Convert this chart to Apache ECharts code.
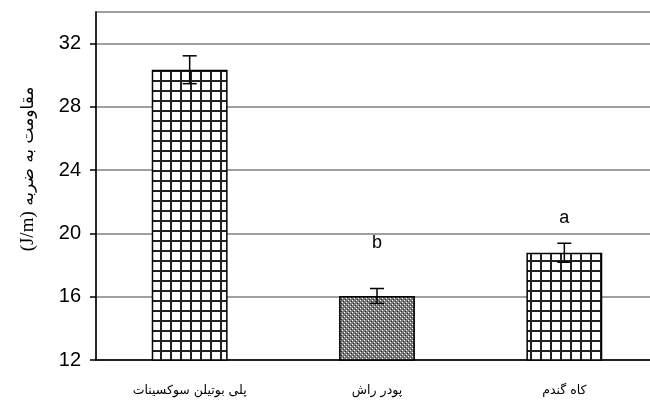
<!DOCTYPE html>
<html>
<head>
<meta charset="utf-8">
<script src="https://cdn.jsdelivr.net/npm/echarts@6/dist/echarts.min.js"></script>
<style>
  html, body { margin: 0; padding: 0; background: #fff; }
  #main { width: 650px; height: 400px; }
</style>
</head>
<body>
<div id="main"></div>
<script>
// data
var categories = ['پلی بوتیلن سوکسینات', 'پودر راش', 'کاه گندم'];
var means = [30.35, 16.05, 18.78];
var errors = [0.88, 0.47, 0.6];
var letters = ['', 'b', 'a'];
var letterPos = [null, 19.4, 21.0];
var yTicks = [12, 16, 20, 24, 28, 32];

// fill patterns: grid of squares / fine grey dots
function makeGrid() {
    var c = document.createElement('canvas');
    c.width = 10; c.height = 10;
    var ctx = c.getContext('2d');
    ctx.fillStyle = '#fff';
    ctx.fillRect(0, 0, 10, 10);
    ctx.fillStyle = '#222';
    ctx.fillRect(0, 0, 10, 2);
    ctx.fillRect(0, 0, 2, 10);
    return c;
}
function makeDots() {
    var c = document.createElement('canvas');
    c.width = 4; c.height = 4;
    var ctx = c.getContext('2d');
    ctx.fillStyle = '#7a7a7a';
    ctx.fillRect(0, 0, 4, 4);
    ctx.fillStyle = '#fff';
    ctx.fillRect(0, 0, 1, 1);
    ctx.fillRect(2, 2, 1, 1);
    ctx.fillStyle = '#333';
    ctx.fillRect(1, 3, 1, 1);
    ctx.fillRect(3, 1, 1, 1);
    return c;
}
var patterns = [makeGrid(), makeDots(), makeGrid()];

var barData = [];
var errData = [];
var letterData = [];
for (var i = 0; i < categories.length; i++) {
    barData.push({
        value: means[i],
        itemStyle: { color: { image: patterns[i], repeat: 'repeat' } }
    });
    errData.push([i, means[i] - errors[i], means[i] + errors[i]]);
    if (letterPos[i] != null) letterData.push({ value: [i, letterPos[i]], name: letters[i] });
}

var myChart = echarts.init(document.getElementById('main'));
var option = {
    animation: false,
    backgroundColor: '#fff',
    grid: {
        left: 96, top: 12, width: 562, height: 348,
        outerBoundsMode: 'none',
        show: true, borderColor: '#808080', borderWidth: 1.5
    },
    xAxis: {
        type: 'category',
        data: categories,
        axisLine: { lineStyle: { color: '#000', width: 1.5 } },
        axisTick: { show: false },
        axisLabel: { color: '#000', fontFamily: 'DejaVu Sans', fontSize: 12.5, margin: 24 }
    },
    yAxis: {
        type: 'value',
        min: 12,
        max: 34,
        interval: 4,
        name: '{u|(J/m)}{t| مقاومت به ضربه}',
        nameLocation: 'middle',
        nameGap: 58,
        nameRotate: 90,
        nameTextStyle: {
            padding: [0, 0, 0, 34],
            rich: {
                u: { fontFamily: 'Liberation Serif', fontSize: 19, color: '#000' },
                t: { fontFamily: 'DejaVu Sans', fontSize: 17, color: '#000' }
            }
        },
        axisLine: { show: true, lineStyle: { color: '#000', width: 1.5 } },
        axisTick: { show: true, length: 6, customValues: yTicks, lineStyle: { color: '#000', width: 1.5 } },
        axisLabel: {
            customValues: yTicks,
            color: '#000', fontFamily: 'Liberation Sans', fontSize: 20, margin: 15
        },
        splitLine: { show: true, lineStyle: { color: '#808080', width: 1.5 } }
    },
    series: [
        {
            type: 'bar',
            data: barData,
            barWidth: '40.5%',
            itemStyle: { borderColor: '#000', borderWidth: 1.5 }
        },
        {
            type: 'custom',
            data: errData,
            encode: { x: 0, y: [1, 2] },
            z: 5,
            renderItem: function (params, api) {
                var lo = api.coord([api.value(0), api.value(1)]);
                var hi = api.coord([api.value(0), api.value(2)]);
                var w = 7;
                var st = { stroke: '#000', lineWidth: 1.5 };
                return {
                    type: 'group',
                    children: [
                        { type: 'line', shape: { x1: hi[0], y1: hi[1], x2: lo[0], y2: lo[1] }, style: st },
                        { type: 'line', shape: { x1: hi[0] - w, y1: hi[1], x2: hi[0] + w, y2: hi[1] }, style: st },
                        { type: 'line', shape: { x1: lo[0] - w, y1: lo[1], x2: lo[0] + w, y2: lo[1] }, style: st }
                    ]
                };
            }
        },
        {
            type: 'scatter',
            data: letterData,
            symbolSize: 0,
            itemStyle: { opacity: 1 },
            label: {
                show: true,
                position: 'inside',
                formatter: function (p) { return p.name; },
                color: '#000',
                opacity: 1,
                fontFamily: 'Liberation Sans',
                fontSize: 18
            }
        }
    ]
};
myChart.setOption(option);
</script>
</body>
</html>
